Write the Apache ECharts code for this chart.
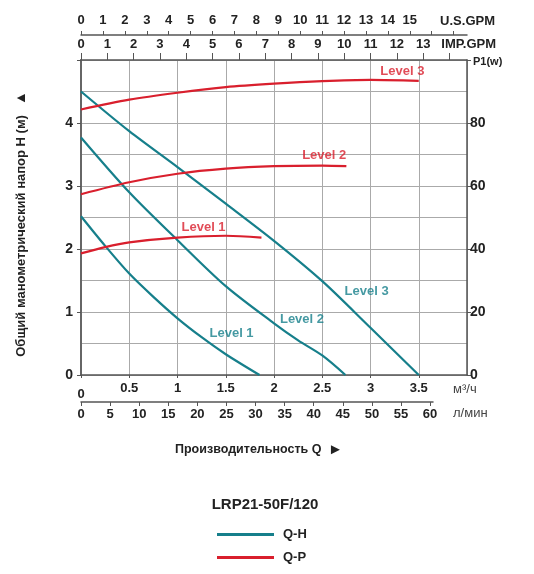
<!DOCTYPE html>
<html>
<head>
<meta charset="utf-8">
<script src="https://cdn.jsdelivr.net/npm/echarts@6/dist/echarts.min.js"></script>
<style>
html, body { margin: 0; padding: 0; background: #fff; }
#chart { width: 534px; height: 574px; }
</style>
</head>
<body>
<div id="chart"></div>
<script>
// Q-H curves: [расход м3/ч, напор м]
const qhLevel1 = [[0, 2.52], [0.25, 2.05], [0.5, 1.61], [0.75, 1.24], [1, 0.9], [1.25, 0.6], [1.5, 0.33], [1.85, 0]];
const qhLevel2 = [[0, 3.77], [0.5, 2.9], [1, 2.14], [1.5, 1.41], [2, 0.82], [2.25, 0.55], [2.5, 0.31], [2.74, 0]];
const qhLevel3 = [[0, 4.5], [0.5, 3.87], [1, 3.3], [1.5, 2.72], [2, 2.13], [2.5, 1.49], [3, 0.75], [3.5, 0]];

// Q-P curves: [расход м3/ч, мощность W]
const qpLevel1 = [[0, 38.6], [0.25, 40.6], [0.5, 42.1], [1, 43.6], [1.5, 44.2], [1.87, 43.6]];
const qpLevel2 = [[0, 57.4], [0.5, 61.2], [1, 63.9], [1.5, 65.5], [2, 66.3], [2.5, 66.5], [2.75, 66.3]];
const qpLevel3 = [[0, 84.3], [0.5, 87.4], [1, 89.6], [1.5, 91.4], [2, 92.5], [2.5, 93.3], [3, 93.7], [3.5, 93.4]];

// curve labels [м3/ч, м, text]
const qpLabels = [[3.33, 4.82, 'Level 3'], [2.52, 3.49, 'Level 2'], [1.27, 2.35, 'Level 1']];
const qhLabels = [[2.96, 1.33, 'Level 3'], [2.29, 0.88, 'Level 2'], [1.56, 0.66, 'Level 1']];

// extra scales
const lpmTicks = [0, 5, 10, 15, 20, 25, 30, 35, 40, 45, 50, 55, 60];
const usGpmTicks = [0, 1, 2, 3, 4, 5, 6, 7, 8, 9, 10, 11, 12, 13, 14, 15, 16, 17];
const usGpmLabels = [0, 1, 2, 3, 4, 5, 6, 7, 8, 9, 10, 11, 12, 13, 14, 15];
const impGpmTicks = [0, 1, 2, 3, 4, 5, 6, 7, 8, 9, 10, 11, 12, 13, 14];
const impGpmLabels = [0, 1, 2, 3, 4, 5, 6, 7, 8, 9, 10, 11, 12, 13];

const FONT = "'Liberation Sans', Arial, sans-serif";
const TEAL = '#167f8b';
const RED = '#d91f2d';
const AXIS = '#555';
const GRID = '#aaa';

const qMax = 4;                 // м3/ч
const usGpmMax = qMax / 0.22712;
const impGpmMax = qMax / 0.27277;

let myChart = echarts.init(document.getElementById('chart'));

let lbl = { fontFamily: FONT, fontSize: 13, fontWeight: 'bold', color: '#222' };

function lineSeries(name, data, yIdx, color) {
    return {
        name: name, type: 'line', xAxisIndex: 0, yAxisIndex: yIdx,
        data: data, smooth: 0.3, showSymbol: false, symbol: 'none',
        lineStyle: { color: color, width: 2.2 }, itemStyle: { color: color },
        z: 5
    };
}

function labelSeries(name, data, color) {
    return {
        name: name, type: 'scatter', xAxisIndex: 0, yAxisIndex: 0,
        data: data, symbolSize: 0, silent: true,
        label: {
            show: true, position: 'inside', formatter: p => p.value[2],
            fontFamily: FONT, fontSize: 13, fontWeight: 'bold', color: color
        },
        z: 6
    };
}

let option = {
    animation: false,
    backgroundColor: '#fff',
    grid: [
        { left: 81, top: 60, width: 386, height: 315 },
        { left: 81, top: 402, width: 352, height: 0 },
        { left: 81, top: 35, width: 386, height: 0 }
    ],
    xAxis: [
        {
            type: 'value', gridIndex: 0, position: 'bottom', min: 0, max: qMax, interval: 0.5,
            axisLine: { show: true, onZero: false, lineStyle: { color: AXIS, width: 1.5 } },
            axisTick: { show: true, length: 3, lineStyle: { color: AXIS } },
            axisLabel: Object.assign({}, lbl, {
                margin: 7, showMaxLabel: false,
                formatter: v => v === 0 ? '{z|0}' : (v >= qMax ? '' : String(v)),
                rich: { z: Object.assign({}, lbl, { padding: [6, 0, 0, 0] }) }
            }),
            splitLine: { show: true, lineStyle: { color: GRID, width: 1 } }
        },
        {
            type: 'value', gridIndex: 0, position: 'top', min: 0, max: impGpmMax,
            axisLine: { show: true, onZero: false, lineStyle: { color: AXIS, width: 1.5 } },
            axisTick: { show: true, length: 7, customValues: impGpmTicks, lineStyle: { color: AXIS } },
            axisLabel: Object.assign({}, lbl, { margin: 9, customValues: impGpmLabels }),
            splitLine: { show: false }
        },
        {
            type: 'value', gridIndex: 1, position: 'bottom', min: 0, max: 60.5,
            axisLine: { show: true, onZero: false, lineStyle: { color: AXIS, width: 1.5 } },
            axisTick: { show: true, length: 4, customValues: lpmTicks, lineStyle: { color: AXIS } },
            axisLabel: Object.assign({}, lbl, { margin: 6, customValues: lpmTicks }),
            splitLine: { show: false }
        },
        {
            type: 'value', gridIndex: 2, position: 'top', min: 0, max: usGpmMax,
            axisLine: { show: true, onZero: false, lineStyle: { color: AXIS, width: 1.5 } },
            axisTick: { show: true, length: 4, customValues: usGpmTicks, lineStyle: { color: AXIS } },
            axisLabel: Object.assign({}, lbl, { margin: 8, customValues: usGpmLabels }),
            splitLine: { show: false }
        }
    ],
    yAxis: [
        {
            type: 'value', gridIndex: 0, position: 'left', min: 0, max: 5, interval: 1,
            axisLine: { show: true, onZero: false, lineStyle: { color: '#666', width: 2 } },
            axisTick: { show: true, length: 4, lineStyle: { color: AXIS } },
            axisLabel: Object.assign({}, lbl, { margin: 8, fontSize: 14, formatter: v => v >= 5 ? '' : String(v) }),
            splitLine: { show: true, lineStyle: { color: GRID, width: 1 } },
            minorTick: { show: false, splitNumber: 2 },
            minorSplitLine: { show: true, lineStyle: { color: GRID, width: 1 } }
        },
        {
            type: 'value', gridIndex: 0, position: 'right', min: 0, max: 100, interval: 20,
            axisLine: { show: true, onZero: false, lineStyle: { color: AXIS, width: 1.5 } },
            axisTick: { show: true, length: 4, lineStyle: { color: AXIS } },
            axisLabel: Object.assign({}, lbl, { margin: 3, fontSize: 14, formatter: v => v >= 100 ? '' : String(v) }),
            splitLine: { show: false }
        },
        { type: 'value', gridIndex: 1, show: false },
        { type: 'value', gridIndex: 2, show: false }
    ],
    legend: {
        data: ['Q-H', 'Q-P'],
        orient: 'vertical', left: 212, top: 523,
        icon: 'rect', itemWidth: 57, itemHeight: 3, itemGap: 10,
        selectedMode: false,
        textStyle: { fontFamily: FONT, fontSize: 13, fontWeight: 'bold', color: '#222', padding: [0, 0, 0, 4] }
    },
    graphic: [
        { type: 'text', x: 495, y: 21, style: { text: 'U.S.GPM', align: 'right', verticalAlign: 'middle', font: 'bold 13px ' + FONT, fill: '#222' } },
        { type: 'text', x: 496, y: 44, style: { text: 'IMP.GPM', align: 'right', verticalAlign: 'middle', font: 'bold 13px ' + FONT, fill: '#222' } },
        { type: 'text', x: 473, y: 62, style: { text: 'P1(w)', align: 'left', verticalAlign: 'middle', font: 'bold 11px ' + FONT, fill: '#222' } },
        { type: 'text', x: 453, y: 389, style: { text: 'м³/ч', align: 'left', verticalAlign: 'middle', font: '13px ' + FONT, fill: '#444' } },
        { type: 'text', x: 453, y: 413, style: { text: 'л/мин', align: 'left', verticalAlign: 'middle', font: '13px ' + FONT, fill: '#444' } },
        {
            type: 'text', x: 175, y: 450,
            style: {
                text: '{t|Производительность Q}  {a|►}', align: 'left', verticalAlign: 'middle',
                rich: {
                    t: { fontFamily: FONT, fontSize: 12.5, fontWeight: 'bold', fill: '#222' },
                    a: { fontFamily: FONT, fontSize: 15, fill: '#222' }
                }
            }
        },
        {
            type: 'text', x: 21, y: 224, rotation: Math.PI / 2,
            style: {
                text: '{t|Общий манометрический напор H (м)}   {a|▲}', align: 'center', verticalAlign: 'middle',
                rich: {
                    t: { fontFamily: FONT, fontSize: 13, fontWeight: 'bold', fill: '#222' },
                    a: { fontFamily: FONT, fontSize: 14, fill: '#222' }
                }
            }
        },
        { type: 'text', x: 265, y: 505, style: { text: 'LRP21-50F/120', align: 'center', verticalAlign: 'middle', font: 'bold 15px ' + FONT, fill: '#222' } }
    ],
    series: [
        lineSeries('Q-H', qhLevel1, 0, TEAL),
        lineSeries('Q-H', qhLevel2, 0, TEAL),
        lineSeries('Q-H', qhLevel3, 0, TEAL),
        lineSeries('Q-P', qpLevel1, 1, RED),
        lineSeries('Q-P', qpLevel2, 1, RED),
        lineSeries('Q-P', qpLevel3, 1, RED),
        labelSeries('qpLabels', qpLabels, RED),
        labelSeries('qhLabels', qhLabels, TEAL)
    ]
};

myChart.setOption(option);
</script>
</body>
</html>
